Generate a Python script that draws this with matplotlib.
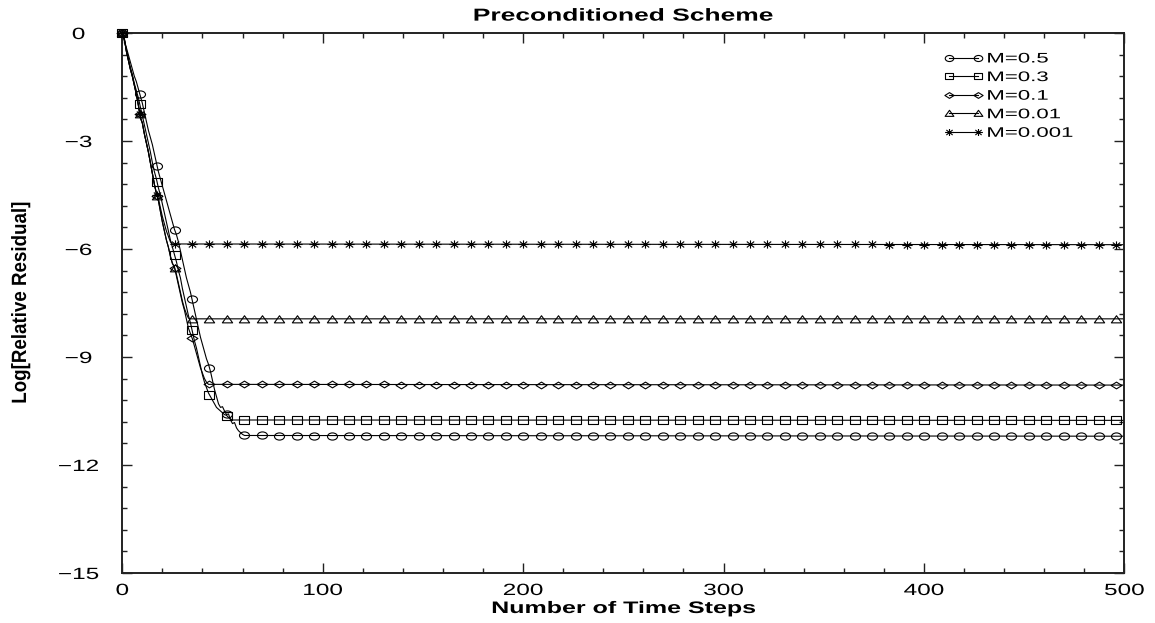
import numpy as np
import matplotlib
matplotlib.use("Agg")
import matplotlib.pyplot as plt
from matplotlib.lines import Line2D
from matplotlib.path import Path
from matplotlib.transforms import Affine2D
from matplotlib.patheffects import AbstractPathEffect

plt.rcParams['font.family'] = ['Liberation Sans', 'DejaVu Sans']

# ---- data ----
labels = ["M=0.5", "M=0.3", "M=0.1", "M=0.01", "M=0.001"]

# M=0.5
x_m05 = [0, 1, 2, 3, 4, 5, 6, 7, 8, 9, 10, 11, 12, 13, 14, 15, 16, 17, 18, 19, 20,
         21, 22, 23, 24, 25, 26, 27, 28, 29, 30, 31, 32, 33, 34, 35, 36, 37, 38, 39,
         40, 41, 42, 43, 44, 45, 46, 47, 48, 49, 50, 51, 52, 53, 54, 55, 56, 57, 58,
         59, 60, 61, 500]
y_m05 = [0, -0.2, -0.4, -0.6, -0.8, -1.0, -1.2, -1.35, -1.55, -1.75, -1.95, -2.2,
         -2.45, -2.7, -2.9, -3.1, -3.35, -3.6, -3.85, -4.05, -4.25, -4.45, -4.65,
         -4.85, -5.05, -5.25, -5.45, -5.6, -5.8, -6.05, -6.3, -6.55, -6.8, -7.0,
         -7.2, -7.45, -7.7, -7.95, -8.2, -8.45, -8.65, -8.85, -9.05, -9.2, -9.4,
         -9.65, -9.9, -10.1, -10.3, -10.4, -10.38, -10.5, -10.6, -10.58, -10.75,
         -10.85, -10.82, -10.97, -11.05, -11.1, -11.15, -11.18, -11.2]

# M=0.3
x_m03 = [0, 1, 2, 3, 4, 5, 6, 7, 8, 9, 10, 11, 12, 13, 14, 15, 16, 17, 18, 19, 20,
         21, 22, 23, 24, 25, 26, 27, 28, 29, 30, 31, 32, 33, 34, 35, 36, 37, 38, 39,
         40, 41, 42, 43, 44, 45, 46, 47, 48, 49, 50, 51, 52, 53, 54, 55, 500]
y_m03 = [0, -0.2, -0.45, -0.7, -0.95, -1.15, -1.4, -1.6, -1.8, -2.05, -2.3, -2.55,
         -2.8, -3.05, -3.3, -3.6, -3.85, -4.05, -4.3, -4.5, -4.75, -5.0, -5.25,
         -5.5, -5.75, -5.95, -6.15, -6.35, -6.6, -6.8, -7.1, -7.35, -7.6, -7.85,
         -8.05, -8.3, -8.55, -8.75, -9.0, -9.25, -9.5, -9.7, -9.85, -10.0, -10.1,
         -10.2, -10.3, -10.4, -10.45, -10.5, -10.55, -10.6, -10.62, -10.68, -10.72,
         -10.75, -10.76]

# M=0.1
x_m01 = [0, 1, 2, 3, 4, 5, 6, 7, 8, 9, 10, 11, 12, 13, 14, 15, 16, 17, 18, 19, 20,
         21, 22, 23, 24, 25, 26, 27, 28, 29, 30, 31, 32, 33, 34, 35, 36, 37, 38, 39,
         40, 41, 42, 43, 500]
y_m01 = [0, -0.15, -0.5, -0.75, -1.0, -1.2, -1.45, -1.7, -2.0, -2.35, -2.5, -2.8,
         -3.05, -3.3, -3.6, -3.9, -4.2, -4.45, -4.65, -4.95, -5.25, -5.5, -5.75,
         -5.95, -6.2, -6.4, -6.5, -6.75, -7.0, -7.25, -7.5, -7.7, -7.95, -8.2,
         -8.35, -8.5, -8.7, -8.9, -9.1, -9.3, -9.45, -9.6, -9.7, -9.76, -9.78]

# M=0.01
x_m001 = [0, 1, 2, 3, 4, 5, 6, 7, 8, 9, 10, 11, 12, 13, 14, 15, 16, 17, 18, 19, 20,
          21, 22, 23, 24, 25, 26, 27, 28, 29, 30, 31, 32, 33, 34, 500]
y_m001 = [0, -0.15, -0.5, -0.75, -1.0, -1.2, -1.45, -1.7, -2.0, -2.35, -2.5, -2.8,
          -3.05, -3.3, -3.6, -3.9, -4.2, -4.45, -4.65, -4.95, -5.25, -5.5, -5.75,
          -5.95, -6.2, -6.4, -6.5, -6.7, -6.95, -7.2, -7.45, -7.65, -7.8, -7.92,
          -7.94, -7.94]

# M=0.001
x_m0001 = [0, 1, 2, 3, 4, 5, 6, 7, 8, 9, 10, 11, 12, 13, 14, 15, 16, 17, 18, 19, 20,
           21, 22, 23, 24, 25, 500]
y_m0001 = [0, -0.15, -0.5, -0.75, -1.0, -1.2, -1.45, -1.7, -2.0, -2.35, -2.5, -2.8,
           -3.05, -3.3, -3.6, -3.9, -4.2, -4.45, -4.6, -4.85, -5.1, -5.3, -5.5,
           -5.65, -5.8, -5.86, -5.88]

series_x = [x_m05, x_m03, x_m01, x_m001, x_m0001]
series_y = [y_m05, y_m03, y_m01, y_m001, y_m0001]

MARKER_STEP = 8.7   # time steps between plotted symbols


# ---- wide (horizontally stretched) symbols and text, as in the reference ----
def _poly(pts):
    return Path(pts + [pts[0]], closed=True)

ellipse_m = Path.unit_circle().transformed(Affine2D().scale(1.4, 1.0))
rect_m = _poly([(-1.25, -1.0), (1.25, -1.0), (1.25, 1.0), (-1.25, 1.0)])
diam_m = _poly([(0, -1.0), (1.6, 0), (0, 1.0), (-1.6, 0)])
tri_m = _poly([(-1.3, -0.85), (1.3, -0.85), (0, 0.95)])
ast_m = Path([(-1.25, 0), (1.25, 0), (0, -1.0), (0, 1.0),
              (-0.9, -0.72), (0.9, 0.72), (-0.9, 0.72), (0.9, -0.72)],
             [Path.MOVETO, Path.LINETO] * 4)
marker_paths = [ellipse_m, rect_m, diam_m, tri_m, ast_m]
marker_sizes = [7.2, 7.0, 7.8, 7.4, 7.4]


class StretchX(AbstractPathEffect):
    def __init__(self, sx, anchor="center"):
        super().__init__()
        self.sx = sx
        self.anchor = anchor

    def draw_path(self, renderer, gc, tpath, affine, rgbFace=None):
        try:
            ext = tpath.get_extents(affine)
            if self.anchor == "left":
                cx = ext.x0
            elif self.anchor == "right":
                cx = ext.x1
            else:
                cx = 0.5 * (ext.x0 + ext.x1)
        except Exception:
            cx = 0.0
        t = affine + Affine2D().translate(-cx, 0).scale(self.sx, 1.0).translate(cx, 0)
        renderer.draw_path(gc, tpath, t, rgbFace)


# ---- figure ----
W, H = 1155, 623
fig = plt.figure(figsize=(W / 100, H / 100), dpi=100)
x0, x1, yb, yt = 122.3, 1124.3, 573, 33
ax = fig.add_axes([x0 / W, 1 - yb / H, (x1 - x0) / W, (yb - yt) / H])

handles = []
for xs, ys, mp, ms, lab in zip(series_x, series_y, marker_paths, marker_sizes, labels):
    xs = np.asarray(xs, float)
    ys = np.asarray(ys, float)
    ax.plot(xs, ys, color="black", linewidth=0.8, zorder=2)
    mx = np.arange(0, xs[-1] + 0.01, MARKER_STEP)
    my = np.interp(mx, xs, ys)
    ax.plot(mx, my, linestyle="none", marker=mp, markersize=ms,
            markerfacecolor="none", markeredgecolor="black", markeredgewidth=0.8,
            zorder=3, clip_on=False)
    handles.append(Line2D([], [], color="black", linewidth=0.8, marker=mp,
                          markersize=ms * 0.85, markerfacecolor="none",
                          markeredgecolor="black", markeredgewidth=0.8, label=lab))

ax.set_xlim(0, 500)
ax.set_ylim(-15, 0)
ax.set_xticks(np.arange(0, 501, 100))
ax.set_xticks(np.arange(0, 501, 20), minor=True)
ax.set_yticks(np.arange(-15, 0.1, 3))
ax.set_yticks(np.arange(-15, 0.1, 0.6), minor=True)

ax.tick_params(which="both", direction="in", top=True, right=True, width=1.0,
               color="#222222")
ax.tick_params(which="major", length=7, labelsize=11.7)
ax.tick_params(which="minor", length=3.5)
ax.tick_params(axis="x", which="major", pad=7.2)
ax.tick_params(axis="y", which="major", pad=31.5)
for s in ax.spines.values():
    s.set_linewidth(1.4)
    s.set_color("#222222")

SX = 1.5
for tk in ax.xaxis.get_major_ticks():
    tk.label1.set_path_effects([StretchX(SX)])
for tk in ax.yaxis.get_major_ticks():
    tk.label1.set_horizontalalignment("center")
    tk.label1.set_path_effects([StretchX(SX)])

title = ax.set_title("Preconditioned Scheme", fontsize=12.5, fontweight="bold", pad=8.9)
title.set_path_effects([StretchX(1.52)])

xl = ax.set_xlabel("Number of Time Steps", fontsize=12, fontweight="bold")
ax.xaxis.set_label_coords(0.5, (yb - 601) / (yb - yt))
xl.set_path_effects([StretchX(SX)])

yl = ax.set_ylabel("Log[Relative Residual]", fontsize=13.5, fontweight="bold")
yl.set_verticalalignment("center")
ax.yaxis.set_label_coords((21 - x0) / (x1 - x0), 0.5)
yl.set_path_effects([StretchX(1.1)])

em = 10.0 * 100 / 72
hl, htp = 2.7, 0.35
leg_left = 987 - (hl + htp) * em
leg_top = 51.5
leg = fig.legend(handles=handles, loc="upper left",
                 bbox_to_anchor=(leg_left / W, 1 - leg_top / H),
                 frameon=False, fontsize=10, numpoints=2, handlelength=hl,
                 handletextpad=htp, labelspacing=0.33, borderpad=0.0,
                 borderaxespad=0.0)
for t in leg.get_texts():
    t.set_path_effects([StretchX(1.6, anchor="left")])

fig.savefig("out.png", dpi=100)
